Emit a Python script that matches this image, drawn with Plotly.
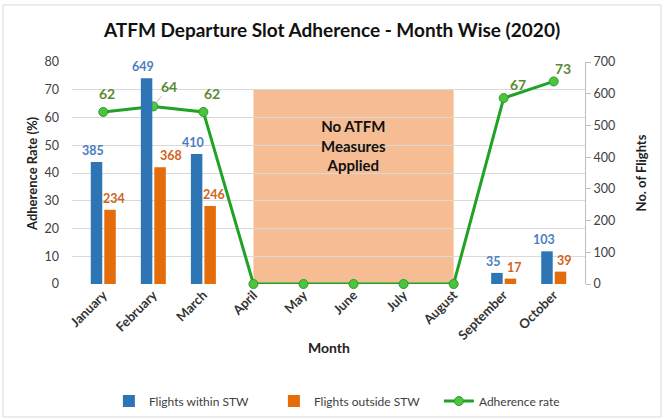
import plotly.graph_objects as go

months = ["January", "February", "March", "April", "May", "June", "July",
          "August", "September", "October"]
within_stw = [385, 649, 410, 0, 0, 0, 0, 0, 35, 103]
outside_stw = [234, 368, 246, 0, 0, 0, 0, 0, 17, 39]
adherence = [62, 64, 62, 0, 0, 0, 0, 0, 67, 73]

BLUE = "#2E75B6"
ORANGE = "#E46C0A"
GREEN = "#1FA324"
FONT = "Lato"

fig = go.Figure()

fig.add_trace(go.Bar(
    x=months, y=within_stw, name="Flights within STW", yaxis="y2",
    marker=dict(color=BLUE, line=dict(width=0)),
))
fig.add_trace(go.Bar(
    x=months, y=outside_stw, name="Flights outside STW", yaxis="y2",
    marker=dict(color=ORANGE, line=dict(width=0)),
))
fig.add_trace(go.Scatter(
    x=months, y=adherence, name="Adherence rate", yaxis="y",
    mode="lines+markers",
    line=dict(color=GREEN, width=3),
    marker=dict(size=9, color="#4CC43F", line=dict(color="#2E9A2A", width=1)),
    cliponaxis=False,
))

annotations = []
# bar data labels
blue_dx = -10
for i, (m, v) in enumerate(zip(months, within_stw)):
    if v:
        annotations.append(dict(x=m, y=v, xref="x", yref="y2", text=str(v),
                                showarrow=False, xshift=blue_dx, yshift=2,
                                yanchor="bottom",
                                font=dict(color="#4A7EC4", size=12.5, family=FONT, weight="bold")))
for i, (m, v) in enumerate(zip(months, outside_stw)):
    if v:
        dx = 18 if i == 1 else 11
        annotations.append(dict(x=m, y=v, xref="x", yref="y2", text=str(v),
                                showarrow=False, xshift=dx, yshift=2,
                                yanchor="bottom",
                                font=dict(color="#D0641A", size=12.5, family=FONT, weight="bold")))

# green data labels
shifts = {0: (4, 18), 2: (9, 18), 8: (14, 14), 9: (9, 13)}
for i, (m, v) in enumerate(zip(months, adherence)):
    if v == 0:
        continue
    if i == 1:
        annotations.append(dict(x=m, y=v, xref="x", yref="y", text=str(v),
                                showarrow=True, arrowhead=0, arrowwidth=0.8,
                                arrowcolor="#A6A6A6", ax=16, ay=-20,
                                font=dict(color="#5A8A32", size=14, family=FONT, weight="bold")))
    else:
        dx, dy = shifts[i]
        annotations.append(dict(x=m, y=v, xref="x", yref="y", text=str(v),
                                showarrow=False, xshift=dx, yshift=dy,
                                font=dict(color="#5A8A32", size=14, family=FONT, weight="bold")))

annotations += [
    dict(x="June", y=50, xref="x", yref="y", text="No ATFM<br>Measures<br>Applied",
         showarrow=False, font=dict(size=15, family=FONT, color="#111111", weight="bold")),
    dict(x=0.5, y=-0.335, xref="paper", yref="paper", text="Month", showarrow=False,
         font=dict(size=14, family=FONT, color="#222222", weight="bold")),
    dict(x=-0.078, y=0.5, xref="paper", yref="paper", text="Adherence Rate (%)",
         textangle=-90, showarrow=False, xanchor="center",
         font=dict(size=13, family=FONT, color="#222222", weight="bold")),
    dict(x=1.11, y=0.5, xref="paper", yref="paper", text="No. of Flights",
         textangle=-90, showarrow=False, xanchor="center",
         font=dict(size=13, family=FONT, color="#222222", weight="bold")),
]

shapes = [
    dict(type="rect", xref="x", yref="y", x0=3, x1=7, y0=0, y1=70,
         fillcolor="#F4B183", opacity=0.85, line=dict(width=0), layer="below"),
    dict(type="rect", xref="paper", yref="paper", x0=-0.1345, x1=1.148,
         y0=-0.599, y1=1.257, line=dict(color="#D9D9D9", width=1),
         fillcolor="rgba(0,0,0,0)", layer="below"),
]

fig.update_layout(
    width=664, height=420,
    margin=dict(l=72, r=79, t=62, b=136),
    paper_bgcolor="white", plot_bgcolor="white",
    font=dict(family=FONT, color="#404040", size=12),
    title=dict(text="ATFM Departure Slot Adherence - Month Wise (2020)",
               x=0.5, xanchor="center", y=0.928, yanchor="middle",
               font=dict(size=19, family=FONT, color="#111111", weight="bold")),
    barmode="group", bargap=0.46, bargroupgap=0.15,
    xaxis=dict(tickangle=-45, tickfont=dict(size=13, weight="bold", color="#333333"),
               showgrid=False, showline=False, ticks="", zeroline=False,
               automargin=False),
    yaxis=dict(range=[0, 80], dtick=10, showgrid=True, gridcolor="#D9D9D9",
               gridwidth=1, zeroline=False, showline=False, ticks="",
               ticklabelstandoff=12, tickfont=dict(size=12.5, color="#404040"),
               automargin=False),
    yaxis2=dict(range=[0, 700], dtick=100, overlaying="y", side="right",
                showgrid=False, zeroline=False, showline=True, linecolor="#BFBFBF",
                ticks="outside", ticklen=5, tickcolor="#BFBFBF",
                tickfont=dict(size=12.5, color="#404040"), automargin=False),
    showlegend=True,
    legend=dict(orientation="h", x=0.164, xanchor="left",
                xref="container", yref="container", y=0.045, yanchor="middle",
                font=dict(size=12, family=FONT, color="#404040"),
                itemwidth=30, entrywidth=120, traceorder="normal"),
    annotations=annotations, shapes=shapes,
)

fig.write_html("out.html")
